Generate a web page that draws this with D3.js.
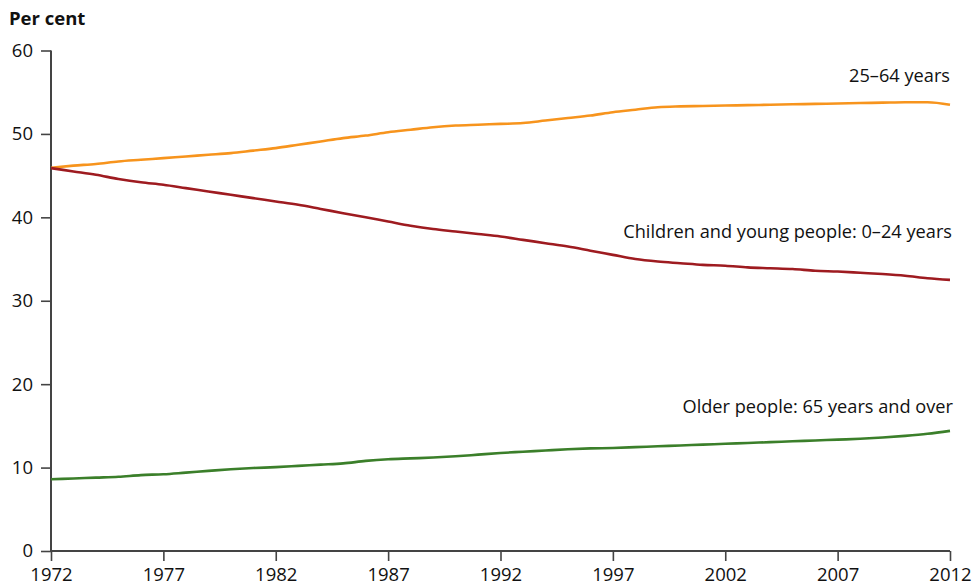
<!DOCTYPE html>
<html>
<head>
<meta charset="utf-8">
<script src="https://cdnjs.cloudflare.com/ajax/libs/d3/7.8.5/d3.min.js"></script>
<style>
  html, body { margin: 0; padding: 0; background: #fff; }
  svg { display: block; }
  text { font-family: "Open Sans", "Noto Sans", sans-serif; fill: #111; }
</style>
</head>
<body>
<svg id="chart" width="973" height="587"></svg>
<script>
const years = d3.range(1972, 2013);
const tickYears = [1972, 1977, 1982, 1987, 1992, 1997, 2002, 2007, 2012];
const yTicks = [0, 10, 20, 30, 40, 50, 60];

const working = [45.95, 46.2, 46.4, 46.7, 46.9, 47.1, 47.3, 47.5, 47.7, 48.0,
  48.3, 48.7, 49.1, 49.5, 49.8, 50.2, 50.5, 50.8, 51.0, 51.1,
  51.2, 51.3, 51.6, 51.9, 52.2, 52.6, 52.9, 53.2, 53.3, 53.35,
  53.4, 53.45, 53.5, 53.55, 53.6, 53.65, 53.7, 53.75, 53.8, 53.8, 53.5];
const children = [45.9, 45.5, 45.1, 44.6, 44.2, 43.9, 43.5, 43.1, 42.7, 42.3,
  41.9, 41.5, 41.0, 40.5, 40.0, 39.5, 39.0, 38.6, 38.3, 38.0,
  37.7, 37.3, 36.9, 36.5, 36.0, 35.5, 35.0, 34.7, 34.5, 34.3,
  34.2, 34.0, 33.9, 33.8, 33.6, 33.5, 33.35, 33.2, 33.0, 32.7, 32.5];
const older = [8.6, 8.7, 8.8, 8.9, 9.1, 9.2, 9.4, 9.6, 9.8, 9.95,
  10.05, 10.2, 10.35, 10.5, 10.8, 11.0, 11.1, 11.2, 11.35, 11.55,
  11.75, 11.9, 12.05, 12.2, 12.3, 12.35, 12.45, 12.55, 12.65, 12.75,
  12.85, 12.95, 13.05, 13.15, 13.25, 13.35, 13.45, 13.6, 13.8, 14.05, 14.4];

const seriesNames = ["25–64 years", "Children and young people: 0–24 years", "Older people: 65 years and over"];
const seriesColors = ["#F7941D", "#9E1B20", "#3B7F2A"];
const seriesValues = [working, children, older];

const svg = d3.select("#chart");
const margin = {left: 51, right: 23, top: 50.5, bottom: 36};
const W = 973, H = 587;

const x = d3.scaleLinear().domain([1972, 2012]).range([margin.left, W - margin.right]);
const y = d3.scaleLinear().domain([0, 60]).range([H - margin.bottom, margin.top]);

// axes
const xAxis = d3.axisBottom(x).tickValues(tickYears).tickFormat(d3.format("d")).tickSize(10).tickPadding(7);
const yAxis = d3.axisLeft(y).tickValues(yTicks).tickSize(10).tickPadding(8);

const gx = svg.append("g").attr("transform", `translate(0,${y(0)})`).call(xAxis);
const gy = svg.append("g").attr("transform", `translate(${x(1972)},0)`).call(yAxis);
[gx, gy].forEach(g => {
  g.select(".domain").attr("stroke", "#444").attr("stroke-width", 2);
  g.selectAll(".tick line").attr("stroke", "#444").attr("stroke-width", 1.6);
  g.selectAll(".tick text").attr("font-size", 18.5).attr("font-family", "'Open Sans', sans-serif").attr("fill", "#111");
});
gy.select(".domain").attr("d", `M0,${y(60)}V${y(0)}`);
gx.select(".domain").attr("d", `M${x(1972)},0H${x(2012)}`);

// lines
const line = d3.line().x((d, i) => x(years[i])).y(d => y(d)).curve(d3.curveMonotoneX);
seriesValues.forEach((vals, k) => {
  svg.append("path").datum(vals)
    .attr("d", line)
    .attr("fill", "none")
    .attr("stroke", seriesColors[k])
    .attr("stroke-width", 2.6)
    .attr("stroke-linejoin", "round");
});

// labels
const labelPos = [ [950, 82], [952, 238], [953, 413] ];
seriesNames.forEach((n, k) => {
  svg.append("text").attr("x", labelPos[k][0]).attr("y", labelPos[k][1])
    .attr("text-anchor", "end").attr("font-size", 18.2).text(n);
});

svg.append("text").attr("x", 9).attr("y", 25).attr("font-size", 18.5).attr("font-weight", "bold")
  .text("Per cent");
</script>
</body>
</html>
